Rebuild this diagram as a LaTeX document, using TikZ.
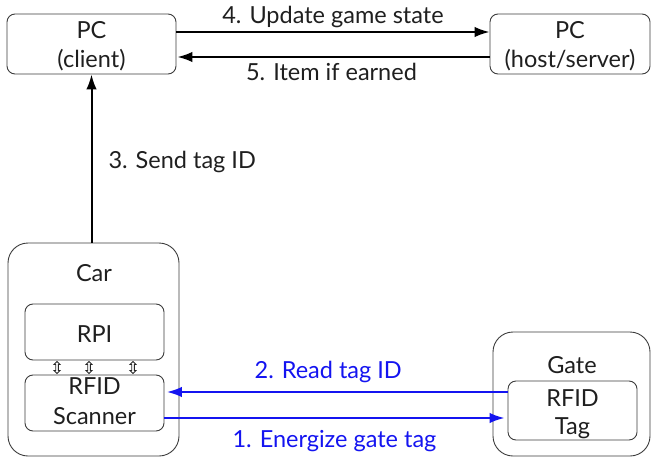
\documentclass[tikz,border=0pt]{standalone}
\usepackage{fontspec}
\setmainfont{Lato}
\usetikzlibrary{arrows.meta}
\definecolor{boxline}{RGB}{60,60,60}
\definecolor{linkblue}{RGB}{20,20,240}
\begin{document}
\begin{tikzpicture}[x=1pt,y=-1pt,
  every node/.style={font=\fontsize{23.5}{28}\selectfont, text=black!88},
  smallbox/.style={draw=boxline, line width=0.9pt, rounded corners=8pt, align=center, inner sep=0pt},
  bigbox/.style={draw=boxline, line width=0.9pt, rounded corners=20pt, inner sep=0pt},
  flow/.style={line width=2pt, -{Latex[length=15pt,width=10.5pt]}},
  blueflow/.style={flow, draw=linkblue},
  msg/.style={anchor=base},
  bluemsg/.style={msg, text=linkblue},
  busarrow/.style={draw=black!85, line width=0.9pt, line join=miter}
]
\useasboundingbox (0,0) rectangle (652,457);

% PCs (the text box baseline is that of the last line)
\node[smallbox, minimum width=169pt, minimum height=60pt, text height=50pt, text depth=2pt]
  (client) at (91.5,44) {PC\\[1pt](client)};
\node[smallbox, minimum width=160pt, minimum height=60pt, text height=50pt, text depth=2pt]
  (host) at (570,44) {PC\\[1pt](host/server)};

% Car with its parts
\node[bigbox, minimum width=171pt, minimum height=213pt] (car) at (93.5,349.5) {};
\node[anchor=base] (carlabel) at (94,281) {Car};
\node[smallbox, minimum width=139pt, minimum height=56pt, text height=20pt, text depth=0pt]
  (rpi) at (94.5,332) {RPI};
\node[smallbox, minimum width=139pt, minimum height=56pt, text height=44pt, text depth=2pt]
  (scanner) at (94.5,403) {RFID\\[2pt]Scanner};

% Gate with its tag
\node[bigbox, minimum width=157pt, minimum height=124pt] (gate) at (571.5,394) {};
\node[anchor=base] (gatelabel) at (572,373) {Gate};
\node[smallbox, minimum width=129pt, minimum height=59pt, text height=49pt, text depth=2pt]
  (tag) at (572.5,410.5) {RFID\\Tag};

% RPI <-> scanner links: small hollow double arrows
\foreach \xx in {57,89,133}{
  \draw[busarrow] (\xx,361.5) -- (\xx+3,364.5) -- (\xx+1.3,364.5) -- (\xx+1.3,370.5)
    -- (\xx+3,370.5) -- (\xx,373.5) -- (\xx-3,370.5) -- (\xx-1.3,370.5)
    -- (\xx-1.3,364.5) -- (\xx-3,364.5) -- cycle;
}

% network messages
\draw[flow] ([yshift=12pt]client.east) -- node[msg, yshift=8pt] (l4) {4. Update game state} ([yshift=12pt]host.west);
\draw[flow] ([yshift=-13pt]host.west) -- node[msg, yshift=-24pt, xshift=-2pt] (l5) {5. Item if earned} ([yshift=-13pt,xshift=1pt]client.east);
\draw[flow] (car.north -| client.south) -- (client.south);
\node[anchor=base west] (l3) at (105,168) {3. Send tag ID};

% radio link
\draw[blueflow] ([yshift=18.5pt]tag.west) -- node[bluemsg, yshift=14pt, xshift=-9pt] (l2) {2. Read tag ID} ([yshift=11pt,xshift=2.5pt]scanner.east);
\draw[blueflow] ([yshift=-15pt]scanner.east) -- node[bluemsg, yshift=-29pt] (l1) {1. Energize gate tag} ([yshift=-7.5pt,xshift=-3pt]tag.west);
\end{tikzpicture}
\end{document}
